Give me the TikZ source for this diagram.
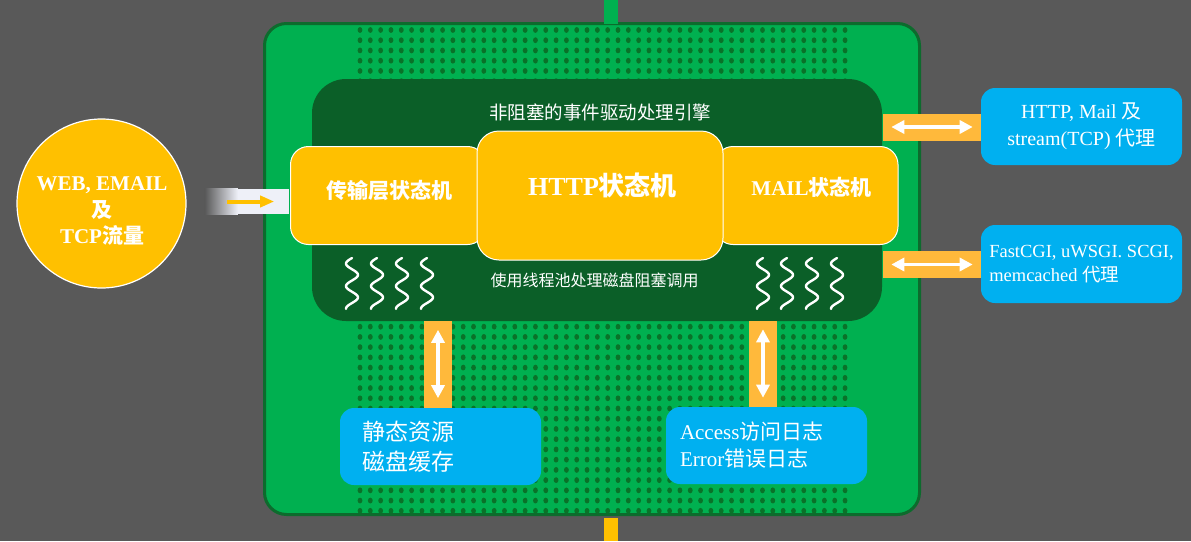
\documentclass[tikz,border=0pt]{standalone}
\usepackage{fontspec}
\setmainfont{Liberation Serif}
\newfontfamily\cjk{Noto Sans CJK SC}
\usetikzlibrary{arrows.meta}
\definecolor{bgray}{HTML}{595959}
\definecolor{board}{HTML}{00B050}
\definecolor{edge}{HTML}{0D6B2D}
\definecolor{dotc}{HTML}{0A7229}
\definecolor{enginec}{HTML}{0B5F28}
\definecolor{amber}{HTML}{FFC000}
\definecolor{pipec}{HTML}{FFB93B}
\definecolor{sky}{HTML}{00B0F0}
\definecolor{mist}{HTML}{EEF0F8}
\tikzset{
  fsm/.style={draw=white, line width=1pt, fill=amber, rounded corners=18pt, inner sep=0},
  fsmtext/.style={text=white, font=\bfseries\fontsize{21}{24}\selectfont},
  pipe/.style={fill=pipec, inner sep=0},
  infobox/.style={fill=sky, rounded corners=14pt, inner sep=0, text=white, minimum width=201, minimum height=77},
  dbl/.style={white, line width=3.5pt, {Triangle[width=13pt,length=13pt]}-{Triangle[width=13pt,length=13pt]}},
  wave/.style={white, line width=2.4pt, line cap=round},
}
\begin{document}
\begin{tikzpicture}[x=1pt,y=-1pt]
  \useasboundingbox (0,0) rectangle (1191,541);
  \fill[bgray] (0,0) rectangle (1191,541);
  % board with its two stubs
  \coordinate (topend) at (611,0);
  \coordinate (botend) at (611,541);
  \node[draw=edge, line width=3pt, fill=board, rounded corners=22pt, minimum width=655, minimum height=491, inner sep=0] (board) at (592,269) {};
  \draw[board, line width=14pt] (topend) -- ([yshift=-2]topend |- board.north);
  \draw[amber, line width=14pt] ([yshift=-2]botend |- board.south) -- (botend);
  \fill[dotc] \foreach \i in {0,...,47} {\foreach \j in {0,...,47} {(360+\i*10.32,30+\j*10.23) ellipse (2.4 and 2.9)}};
  % engine
  \node[fill=enginec, rounded corners=34pt, minimum width=570, minimum height=242, inner sep=0] (engine) at (597,200) {};
  \node[text=white, font=\cjk\fontsize{18.5}{20}\selectfont] (title) at (600,112) {非阻塞的事件驱动处理引擎};
  \node[text=white, font=\cjk\fontsize{16}{18}\selectfont] (pool) at (594.5,280) {使用线程池处理磁盘阻塞调用};
  \foreach \wx in {352,377,402,427,763,787,812,837}
    \draw[wave] plot[domain=0:51, samples=60, smooth] ({\wx-6*sin(\x*16)},{258+\x});
  % state machines
  \node[fsm, minimum width=195, minimum height=98] (trans) at (388,195.5) {};
  \node[fsm, minimum width=183, minimum height=98] (mail) at (806.5,195.5) {};
  \node[fsm, rounded corners=22pt, minimum width=246, minimum height=129] (http) at (600,195.5) {};
  \node[fsmtext] (transtext) at (389.5,190) {\cjk 传输层状态机};
  \node[fsmtext, font=\bfseries\fontsize{26}{28}\selectfont] (httptext) at (602.5,185) {HTTP{\cjk 状态机}};
  \node[fsmtext] (mailtext) at (811.5,187) {MAIL{\cjk 状态机}};
  % traffic source
  \node[circle, fill=amber, draw=white, line width=1.2pt, minimum size=169, inner sep=0] (src) at (101.5,203.5) {};
  \node[text=white, align=center, font=\bfseries\fontsize{21}{26.5}\selectfont] (srctext) at (102,211) {WEB, EMAIL\\{\cjk 及}\\TCP{\cjk 流量}};
  \node[minimum width=97, minimum height=25, inner sep=0] (feed) at (240.5,201.5) {};
  \fill[bgray] (feed.south west) rectangle ([xshift=13]feed.north west);
  \shade[left color=bgray, right color=mist] ([xshift=13]feed.south west) rectangle ([xshift=46]feed.north west);
  \fill[mist] ([xshift=46]feed.south west) rectangle (feed.north east);
  \draw[amber, line width=4pt, -{Triangle[width=11pt,length=14pt]}] ([xshift=35]feed.west) -- ([xshift=-15]feed.east);
  % pipes
  \node[pipe, minimum width=98, minimum height=27] (phttp) at (931.5,127) {};
  \draw[dbl] ([xshift=9]phttp.west) -- ([xshift=-8]phttp.east);
  \node[pipe, minimum width=98, minimum height=27] (pcgi) at (931.5,264.5) {};
  \draw[dbl] ([xshift=9]pcgi.west) -- ([xshift=-8]pcgi.east);
  \node[pipe, minimum width=28, minimum height=87] (pdisk) at (438,364.5) {};
  \draw[dbl] ([yshift=-9]pdisk.north) -- ([yshift=10]pdisk.south);
  \node[pipe, minimum width=28, minimum height=87] (plog) at (763,364) {};
  \draw[dbl] ([yshift=-9]plog.north) -- ([yshift=10]plog.south);
  % info boxes
  \node[infobox, font=\fontsize{20}{27}\selectfont, align=center] (proxy) at (1081.5,126.5) {HTTP, Mail {\cjk 及}\\stream(TCP) {\cjk 代理}};
  \node[infobox, minimum height=78, font=\fontsize{18.5}{24}\selectfont, align=left] (upstream) at (1081.5,264) {FastCGI, uWSGI. SCGI,\\memcached {\cjk 代理}};
  \node[infobox, font=\cjk\fontsize{23}{30}\selectfont, text width=157, inner xsep=22, align=left] (disk) at (440.5,446.5) {静态资源\\磁盘缓存};
  \node[infobox, font=\fontsize{21}{27}\selectfont, text width=173, inner xsep=14, align=left] (log) at (766.5,445.5) {Access{\cjk 访问日志}\\Error{\cjk 错误日志}};
\end{tikzpicture}
\end{document}
